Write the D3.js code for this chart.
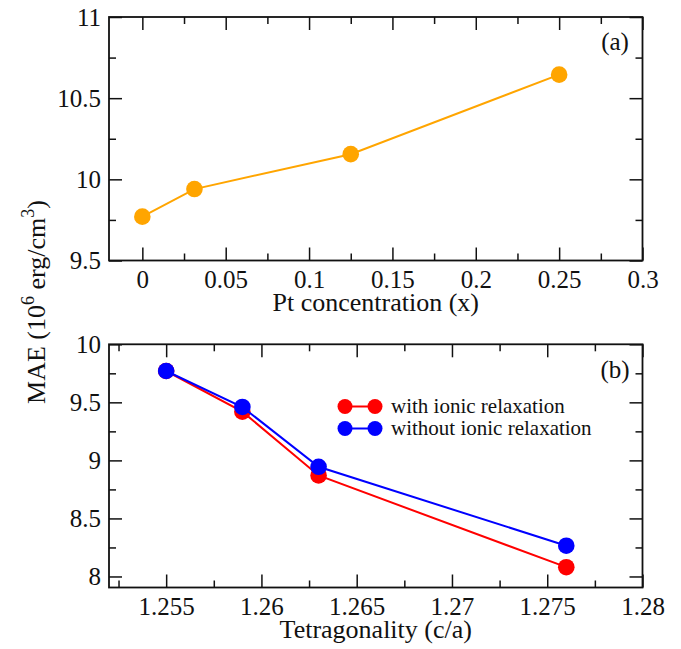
<!DOCTYPE html>
<html lang="en">
<head>
<meta charset="UTF-8">
<title>MAE vs Pt concentration and tetragonality</title>
<script src="https://d3js.org/d3.v7.min.js"></script>
<style>
  body { margin: 0; background: #fff; }
  .tick line { stroke: #111; stroke-width: 1.5px; }
  .frame { fill: none; stroke: #111; stroke-width: 1.8px; }
</style>
</head>
<body>
<script>
// panel (a): MAE vs Pt concentration
const ptX = [0, 0.03125, 0.125, 0.25];
const ptMAE = [9.77, 9.94, 10.155, 10.645];
const xTicksA = [0, 0.05, 0.1, 0.15, 0.2, 0.25, 0.3];
const yTicksA = [9.5, 10, 10.5, 11];

// panel (b): MAE vs tetragonality
const tetra = [1.255, 1.259, 1.263, 1.276];
const maeWith = [9.77, 9.42, 8.87, 8.08];
const maeWithout = [9.77, 9.46, 8.945, 8.265];
const xTicksB = [1.255, 1.26, 1.265, 1.27, 1.275, 1.28];
const yTicksB = [8, 8.5, 9, 9.5, 10];
const seriesNames = ["with ionic relaxation", "without ionic relaxation"];
const seriesColors = ["#ff0000", "#0000ff"];

const SERIF = "'Liberation Serif', 'Times New Roman', serif";
const W = 681, H = 649;
const svg = d3.select("body").append("svg").attr("width", W).attr("height", H)
  .attr("font-family", SERIF);

const left = 109, right = 642.5;

function styleText(sel, size) {
  sel.attr("font-family", SERIF).attr("font-size", size).attr("fill", "#111");
}

function panel(cfg) {
  const x = d3.scaleLinear().domain(cfg.xDomain).range([left, right]);
  const y = d3.scaleLinear().domain(cfg.yDomain).range([cfg.bottom, cfg.top]);
  const g = svg.append("g");

  // major ticks with labels
  g.append("g").attr("transform", `translate(0,${cfg.bottom})`)
    .call(d3.axisBottom(x).tickValues(cfg.xTicks).tickSize(-13).tickPadding(10).tickFormat(String))
    .call(a => a.select(".domain").remove())
    .call(a => a.attr("font-family", SERIF))
    .selectAll("text").call(styleText, 25);
  g.append("g").attr("transform", `translate(${left},0)`)
    .call(d3.axisLeft(y).tickValues(cfg.yTicks).tickSize(-13).tickPadding(8).tickFormat(String))
    .call(a => a.select(".domain").remove())
    .call(a => a.attr("font-family", SERIF))
    .selectAll("text").call(styleText, 25);
  g.append("g").attr("transform", `translate(0,${cfg.top})`)
    .call(d3.axisTop(x).tickValues(cfg.xTicks).tickSize(-13).tickFormat(""))
    .call(a => a.select(".domain").remove());
  g.append("g").attr("transform", `translate(${right},0)`)
    .call(d3.axisRight(y).tickValues(cfg.yTicks).tickSize(-13).tickFormat(""))
    .call(a => a.select(".domain").remove());

  // minor ticks
  const xm = cfg.xMinor, ym = cfg.yMinor;
  [[d3.axisBottom(x).tickValues(xm), `translate(0,${cfg.bottom})`],
   [d3.axisTop(x).tickValues(xm), `translate(0,${cfg.top})`],
   [d3.axisLeft(y).tickValues(ym), `translate(${left},0)`],
   [d3.axisRight(y).tickValues(ym), `translate(${right},0)`]].forEach(([ax, tr]) => {
    g.append("g").attr("transform", tr)
      .call(ax.tickSize(-7).tickFormat(""))
      .call(a => a.select(".domain").remove());
  });

  g.append("rect").attr("class", "frame")
    .attr("x", left).attr("y", cfg.top)
    .attr("width", right - left).attr("height", cfg.bottom - cfg.top);

  g.append("text").attr("x", (left + right) / 2).attr("y", cfg.titleY)
    .attr("text-anchor", "middle").call(styleText, 26).text(cfg.xTitle);

  g.append("text").attr("x", 615).attr("y", cfg.labelY)
    .attr("text-anchor", "middle").call(styleText, 25).text(cfg.label);

  return { g, x, y };
}

function series(p, xs, ys, color) {
  const pts = xs.map((v, i) => [v, ys[i]]);
  p.g.append("path").datum(pts)
    .attr("fill", "none").attr("stroke", color).attr("stroke-width", 2)
    .attr("d", d3.line().x(d => p.x(d[0])).y(d => p.y(d[1])));
  p.g.selectAll(null).data(pts).enter().append("circle")
    .attr("cx", d => p.x(d[0])).attr("cy", d => p.y(d[1]))
    .attr("r", 8.3).attr("fill", color);
}

const minorRange = (a, b, s) => d3.range(Math.round((b - a) / s) + 1).map(i => +(a + i * s).toFixed(6));

const pa = panel({
  xDomain: [-0.02, 0.3], yDomain: [9.5, 11], top: 17, bottom: 260.5,
  xTicks: xTicksA, yTicks: yTicksA,
  xMinor: minorRange(0.025, 0.275, 0.05), yMinor: minorRange(9.75, 10.75, 0.5),
  xTitle: "Pt concentration (x)", titleY: 311, label: "(a)", labelY: 50
});
series(pa, ptX, ptMAE, "#ffa500");

const pb = panel({
  xDomain: [1.252, 1.28], yDomain: [7.905, 10], top: 344.3, bottom: 587.5,
  xTicks: xTicksB, yTicks: yTicksB,
  xMinor: minorRange(1.2525, 1.2775, 0.005), yMinor: minorRange(8.25, 9.75, 0.5),
  xTitle: "Tetragonality (c/a)", titleY: 638, label: "(b)", labelY: 378
});
series(pb, tetra, maeWith, seriesColors[0]);
series(pb, tetra, maeWithout, seriesColors[1]);

// legend
const legend = pb.g.append("g");
seriesNames.forEach((name, i) => {
  const yy = 406.5 + i * 22;
  legend.append("line").attr("x1", 345).attr("x2", 375).attr("y1", yy).attr("y2", yy)
    .attr("stroke", seriesColors[i]).attr("stroke-width", 2);
  [345, 375].forEach(cx => legend.append("circle").attr("cx", cx).attr("cy", yy)
    .attr("r", 7.5).attr("fill", seriesColors[i]));
  legend.append("text").attr("x", 391).attr("y", yy).attr("dy", "0.33em")
    .call(styleText, 21).text(name);
});

// shared y-axis title
const yl = svg.append("text")
  .attr("transform", "translate(45,302) rotate(-90)")
  .attr("text-anchor", "middle").call(styleText, 26);
yl.append("tspan").text("MAE (10");
yl.append("tspan").attr("dy", -11).attr("font-size", 18).text("6");
yl.append("tspan").attr("dy", 11).text(" erg/cm");
yl.append("tspan").attr("dy", -11).attr("font-size", 18).text("3");
yl.append("tspan").attr("dy", 11).text(")");
</script>
</body>
</html>
